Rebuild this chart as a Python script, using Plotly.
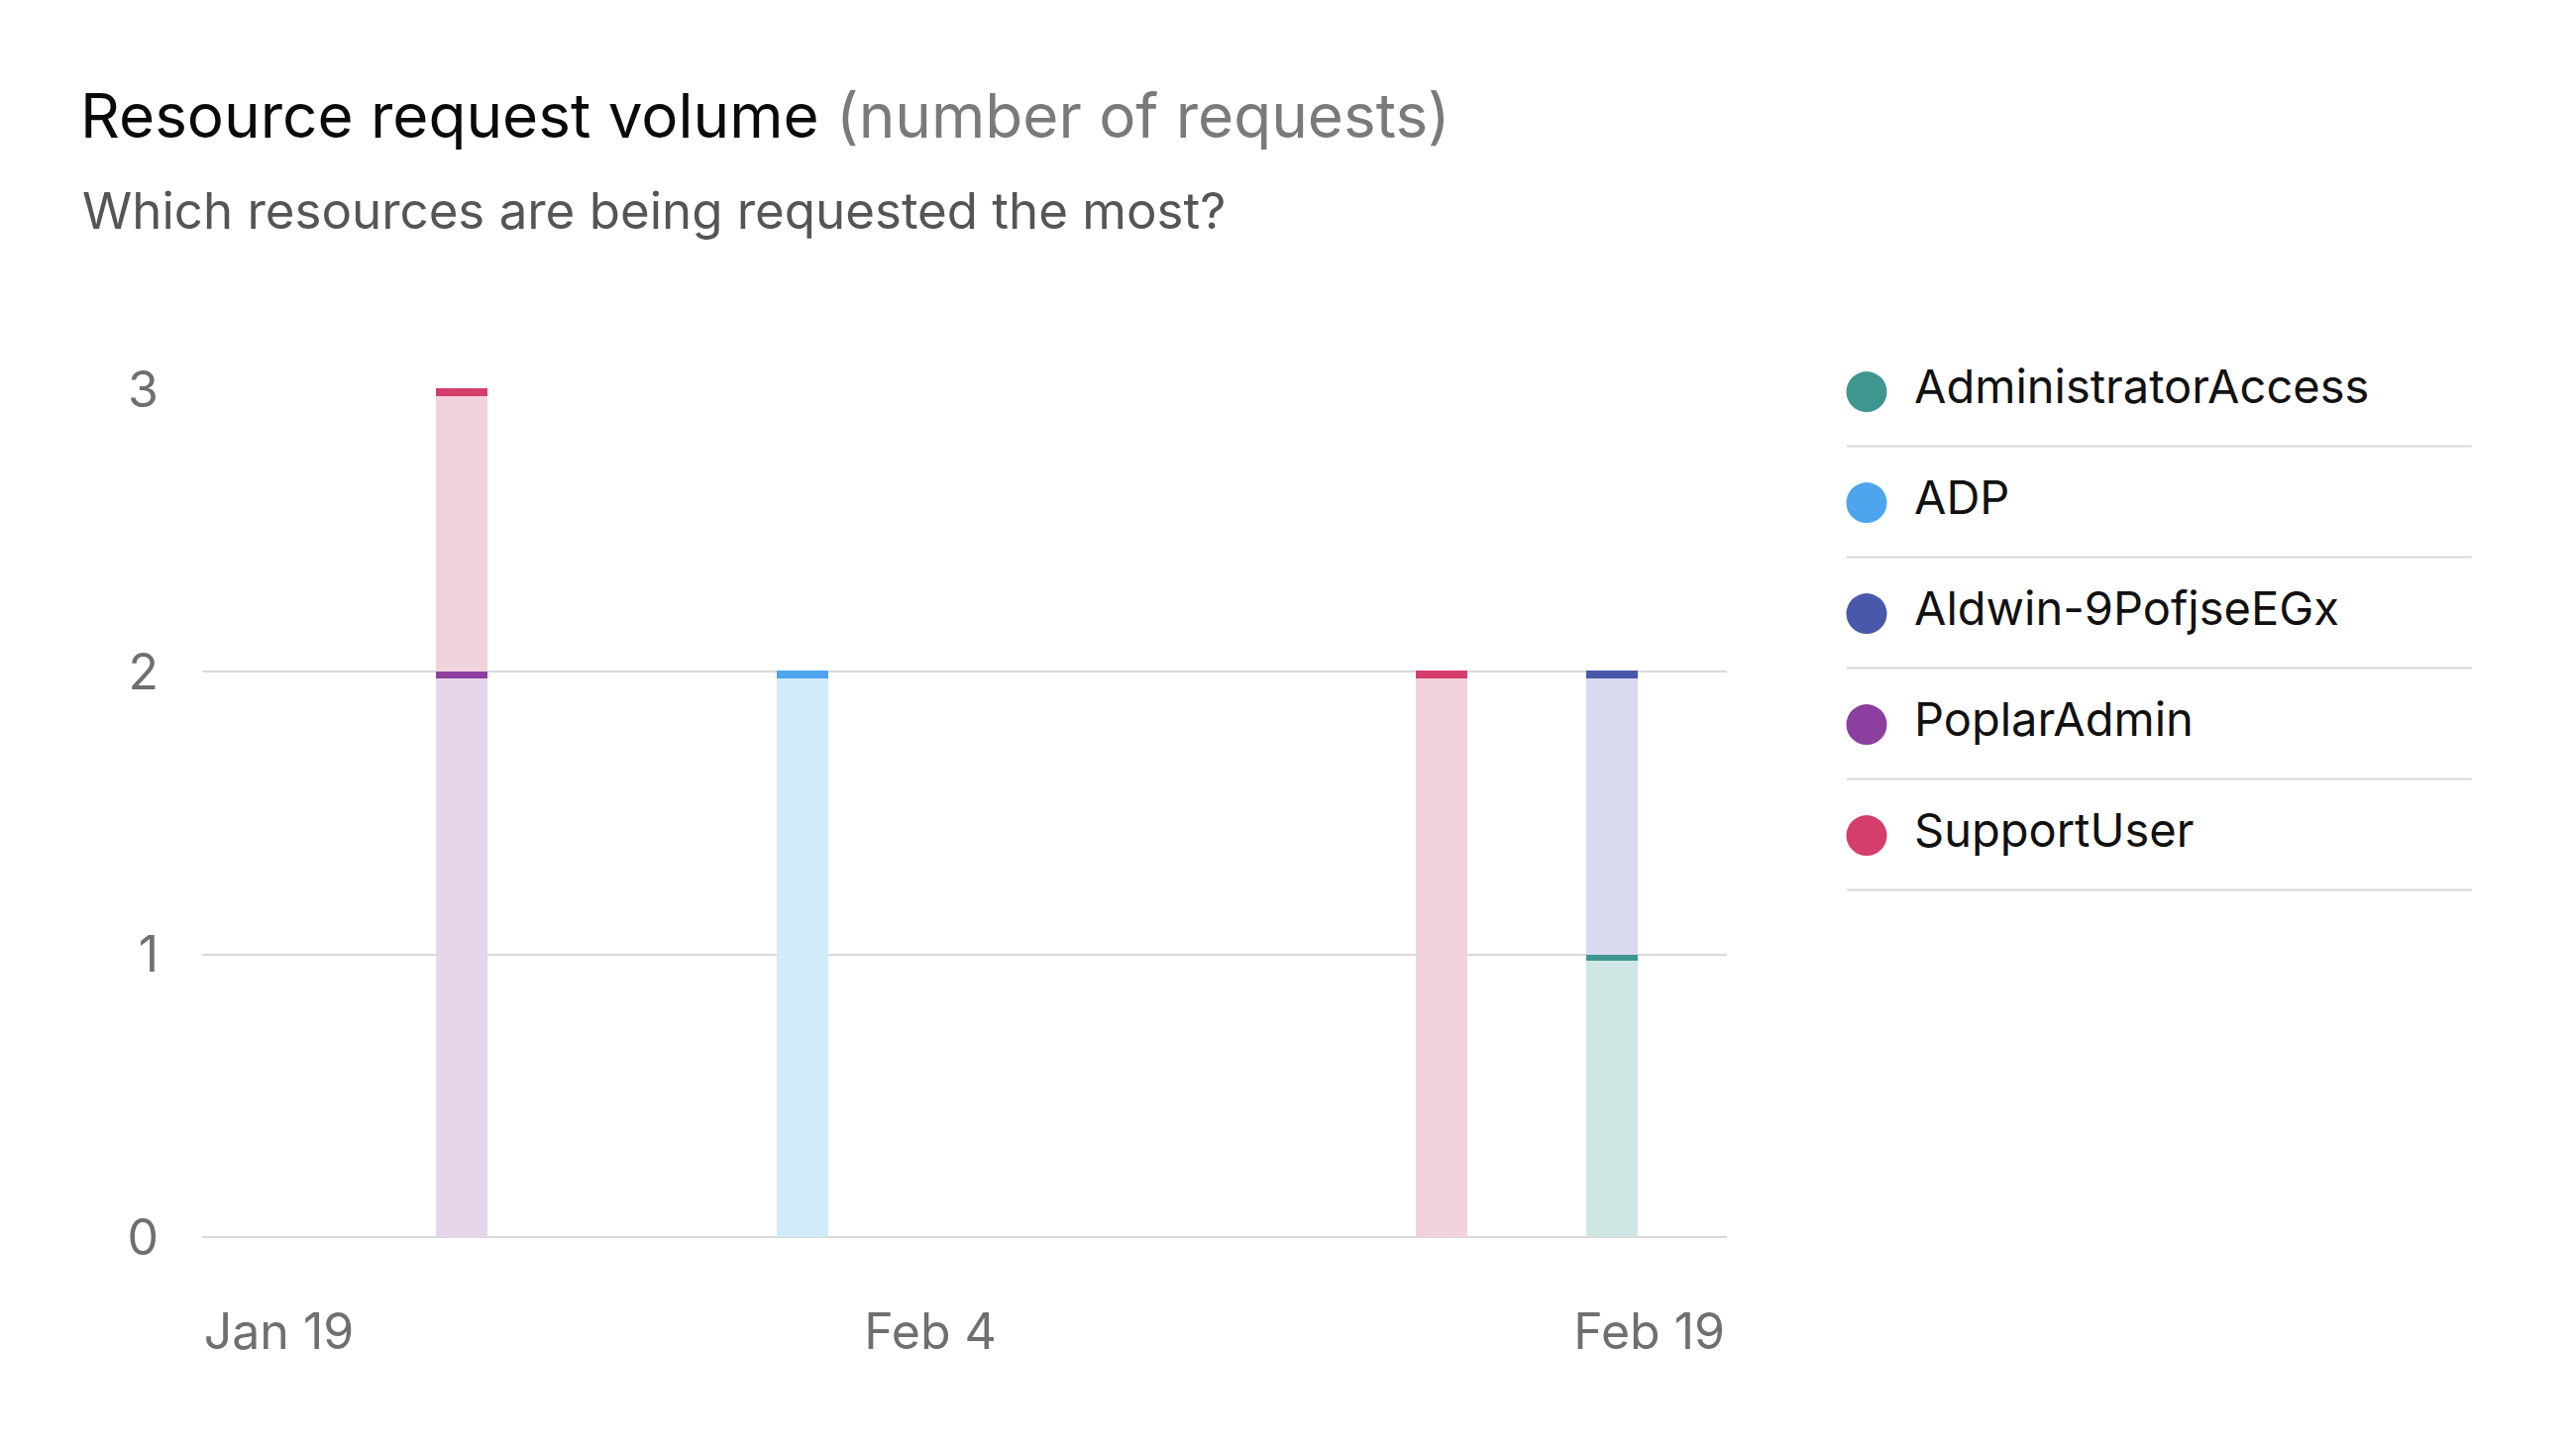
import plotly.graph_objects as go

# ---- data ----
dates = ["2024-01-24", "2024-02-01", "2024-02-16", "2024-02-20"]
series_names = ["AdministratorAccess", "ADP", "Aldwin-9PofjseEGx", "PoplarAdmin", "SupportUser"]
series_values = {
    "AdministratorAccess": [0, 0, 0, 1],
    "ADP":                 [0, 2, 0, 0],
    "Aldwin-9PofjseEGx":   [0, 0, 0, 1],
    "PoplarAdmin":         [2, 0, 0, 0],
    "SupportUser":         [1, 0, 2, 0],
}
cap_colors = ["#3f968e", "#4ea5ee", "#4a58a9", "#8c3f9f", "#d53d6b"]
fill_colors = ["#cfe7e4", "#d2ebf8", "#d9daee", "#e6d6ec", "#f1d3de"]
tick_labels = ["Jan 19", "Feb 4", "Feb 19"]
tick_positions = ["2024-01-19 17:00", "2024-02-04 00:00", "2024-02-20 21:00"]
y_ticks = [0, 1, 2, 3]

W, H = 2600, 1464
FONT = "Inter"
DAY_MS = 86400000
bar_width = 1.19 * DAY_MS
cap_h = 0.028

fig = go.Figure()

cum = [0.0] * len(dates)
for i, name in enumerate(series_names):
    vals = series_values[name]
    xs = [d for d, v in zip(dates, vals) if v > 0]
    bases = [c for c, v in zip(cum, vals) if v > 0]
    hs = [v for v in vals if v > 0]
    # light body
    fig.add_trace(go.Bar(x=xs, y=hs, base=bases, width=bar_width,
                         marker=dict(color=fill_colors[i], line=dict(width=0)),
                         name=name, showlegend=False, xaxis="x", yaxis="y"))
    # dark cap at the top of the segment
    fig.add_trace(go.Bar(x=xs, y=[cap_h] * len(xs),
                         base=[b + h - cap_h * 0.85 for b, h in zip(bases, hs)],
                         width=bar_width,
                         marker=dict(color=cap_colors[i], line=dict(width=0)),
                         name=name, showlegend=False, hoverinfo="skip", xaxis="x", yaxis="y"))
    cum = [c + v for c, v in zip(cum, vals)]

# ---- custom legend drawn on a side axis ----
idx = list(range(len(series_names)))
fig.add_trace(go.Scatter(
    x=[20] * len(series_names), y=idx, mode="markers",
    marker=dict(size=41, color=cap_colors, line=dict(width=0)),
    cliponaxis=False, showlegend=False, hoverinfo="skip",
    xaxis="x2", yaxis="y2"))
fig.add_trace(go.Scatter(
    x=[68] * len(series_names), y=idx, mode="text",
    text=series_names, textposition="middle right",
    textfont=dict(family=FONT, size=47, color="#111111"),
    cliponaxis=False, showlegend=False, hoverinfo="skip",
    xaxis="x2", yaxis="y2"))

shapes = []
for i in idx:
    shapes.append(dict(type="line", xref="x2 domain", yref="y2",
                       x0=0, x1=1, y0=i + 0.49, y1=i + 0.49,
                       line=dict(color="#d9d9d9", width=2)))

plot_l, plot_r, plot_t, plot_b = 204, 1743, 392, 1249
margin_r = W - 2495
paper_w = W - plot_l - margin_r

fig.update_layout(
    width=W, height=H,
    paper_bgcolor="white", plot_bgcolor="white",
    margin=dict(l=plot_l, r=margin_r, t=plot_t, b=H - plot_b),
    barmode="overlay",
    bargap=0,
    showlegend=False,
    font=dict(family=FONT, color="#6f6f6f"),
    title=dict(
        text="Resource request volume <span style='color:#7a7a7a'>(number of requests)</span>",
        x=81 / W, xref="container", xanchor="left",
        y=1 - 117 / H, yref="container", yanchor="middle",
        font=dict(family=FONT, size=62, color="#0a0a0a")),
    annotations=[dict(
        text="Which resources are being requested the most?",
        xref="paper", yref="paper",
        x=(81 - plot_l) / paper_w, y=1 + (plot_t - 212) / (plot_b - plot_t),
        xanchor="left", yanchor="middle", showarrow=False,
        font=dict(family=FONT, size=51, color="#555555"))],
    xaxis=dict(
        type="date", domain=[0, (plot_r - plot_l) / paper_w],
        range=["2024-01-17 21:46", "2024-02-22 16:42"],
        tickvals=tick_positions, ticktext=tick_labels,
        showgrid=False, zeroline=False, showline=False, ticks="",
        tickfont=dict(family=FONT, size=50, color="#6f6f6f"),
        ticklabelstandoff=62, fixedrange=True),
    yaxis=dict(
        range=[0, 3.0035], tickvals=y_ticks,
        showgrid=True, gridcolor="#d9d9d9", gridwidth=2,
        zeroline=True, zerolinecolor="#d9d9d9", zerolinewidth=2,
        showline=False, ticks="",
        tickfont=dict(family=FONT, size=50, color="#6f6f6f"),
        ticklabelstandoff=43, fixedrange=True),
    xaxis2=dict(domain=[(1864 - plot_l) / paper_w, 1], range=[0, 631],
                visible=False, fixedrange=True),
    yaxis2=dict(domain=[0, 1], range=[7.62, -0.032], visible=False,
                fixedrange=True, anchor="x2"),
    shapes=shapes,
)

fig.write_html("out.html", config={"displayModeBar": False},
               post_script="document.body.style.margin='0';")
